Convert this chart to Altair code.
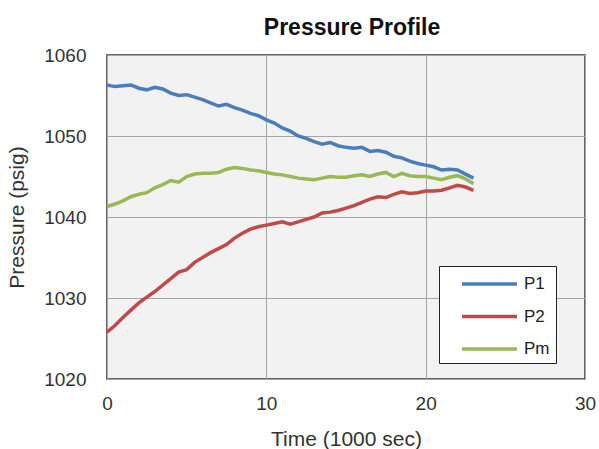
import altair as alt
import pandas as pd

# Time in 1000 sec
time_k = [0.0, 0.5, 1.0, 1.5, 2.0, 2.5, 3.0, 3.5, 4.0, 4.5, 5.0, 5.5, 6.0, 6.5, 7.0, 7.5,
          8.0, 8.5, 9.0, 9.5, 10.0, 10.5, 11.0, 11.5, 12.0, 12.5, 13.0, 13.5, 14.0, 14.5,
          15.0, 15.5, 16.0, 16.5, 17.0, 17.5, 18.0, 18.5, 19.0, 19.5, 20.0, 20.5, 21.0,
          21.5, 22.0, 22.5, 23.0]

p1 = [1056.3, 1056.1, 1056.2, 1056.3, 1055.9, 1055.7, 1056.0, 1055.8, 1055.3, 1055.0,
      1055.1, 1054.8, 1054.5, 1054.1, 1053.7, 1053.9, 1053.5, 1053.2, 1052.8, 1052.5,
      1052.0, 1051.6, 1051.0, 1050.6, 1050.0, 1049.7, 1049.3, 1049.0, 1049.2, 1048.8,
      1048.6, 1048.5, 1048.6, 1048.1, 1048.2, 1048.0, 1047.5, 1047.3, 1046.9, 1046.6,
      1046.4, 1046.2, 1045.8, 1045.9, 1045.8, 1045.3, 1044.8]

p2 = [1025.8, 1026.6, 1027.6, 1028.5, 1029.4, 1030.1, 1030.8, 1031.6, 1032.4, 1033.2,
      1033.5, 1034.4, 1035.0, 1035.6, 1036.1, 1036.6, 1037.4, 1038.0, 1038.5, 1038.8,
      1039.0, 1039.2, 1039.4, 1039.1, 1039.4, 1039.7, 1040.0, 1040.5, 1040.6, 1040.8,
      1041.1, 1041.4, 1041.8, 1042.2, 1042.5, 1042.4, 1042.8, 1043.1, 1042.9, 1043.0,
      1043.2, 1043.2, 1043.3, 1043.6, 1043.9, 1043.7, 1043.3]

pm = [1041.3, 1041.6, 1042.0, 1042.5, 1042.8, 1043.0, 1043.6, 1044.0, 1044.5, 1044.3,
      1045.0, 1045.3, 1045.4, 1045.4, 1045.5, 1045.9, 1046.1, 1046.0, 1045.8, 1045.7,
      1045.5, 1045.3, 1045.2, 1045.0, 1044.8, 1044.7, 1044.6, 1044.8, 1045.0, 1044.9,
      1044.9, 1045.1, 1045.2, 1045.0, 1045.3, 1045.5, 1045.0, 1045.4, 1045.1, 1045.0,
      1045.0, 1044.8, 1044.6, 1044.9, 1045.1, 1044.7, 1044.1]

series_names = ["P1", "P2", "Pm"]
series_colors = ["#4a7ebb", "#be4b48", "#98b954"]
x_ticks = [0, 10, 20, 30]
y_ticks = [1020, 1030, 1040, 1050, 1060]

rows = []
for name, vals in zip(series_names, [p1, p2, pm]):
    for t, v in zip(time_k, vals):
        rows.append({"time": t, "pressure": v, "series": name})
df = pd.DataFrame(rows)

FONT = "Liberation Sans"

chart = alt.Chart(df).mark_line(strokeWidth=3.5).encode(
    x=alt.X("time:Q", scale=alt.Scale(domain=[0, 30], nice=False),
            axis=alt.Axis(values=x_ticks, title="Time (1000 sec)", format="d",
                          labelFlush=False)),
    y=alt.Y("pressure:Q", scale=alt.Scale(domain=[1020, 1060], nice=False, zero=False),
            axis=alt.Axis(values=y_ticks, title="Pressure (psig)", format="d",
                          labelFlush=False)),
    color=alt.Color("series:N",
                    scale=alt.Scale(domain=series_names, range=series_colors),
                    legend=alt.Legend(title=None, orient="none", legendX=332, legendY=211,
                                      symbolType="M0.5,0H6.0", symbolStrokeWidth=3.5,
                                      symbolSize=400, labelFontSize=17, labelFont=FONT,
                                      labelColor="#222222", padding=6, rowPadding=12.5,
                                      fillColor="white", strokeColor="#222222",
                                      labelOffset=55, direction="vertical",
                                      labelExpr="datum.label + '\u2003\u2003'")),
).properties(
    width=478, height=324,
    padding={"left": 107, "top": 55, "right": 14, "bottom": 70},
    autosize=alt.AutoSizeParams(type="none"),
    title=alt.TitleParams("Pressure Profile", fontSize=23, fontWeight="bold", font=FONT,
                          anchor="middle", dx=6, offset=6, color="#111111"),
).configure_view(
    fill="#f2f2f2", stroke="#333333", strokeWidth=1.5
).configure_axis(
    domain=False, ticks=False, grid=True, gridColor="#a6a6a6", gridWidth=1,
    labelFont=FONT, labelFontSize=19, labelColor="#333333",
    titleFont=FONT, titleFontSize=21, titleFontWeight="normal", titleColor="#333333",
).configure_axisX(
    labelPadding=15, titlePadding=15
).configure_axisY(
    labelPadding=21, titlePadding=16
)

chart.save("out.html", embed_options={"renderer": "svg", "actions": False})
